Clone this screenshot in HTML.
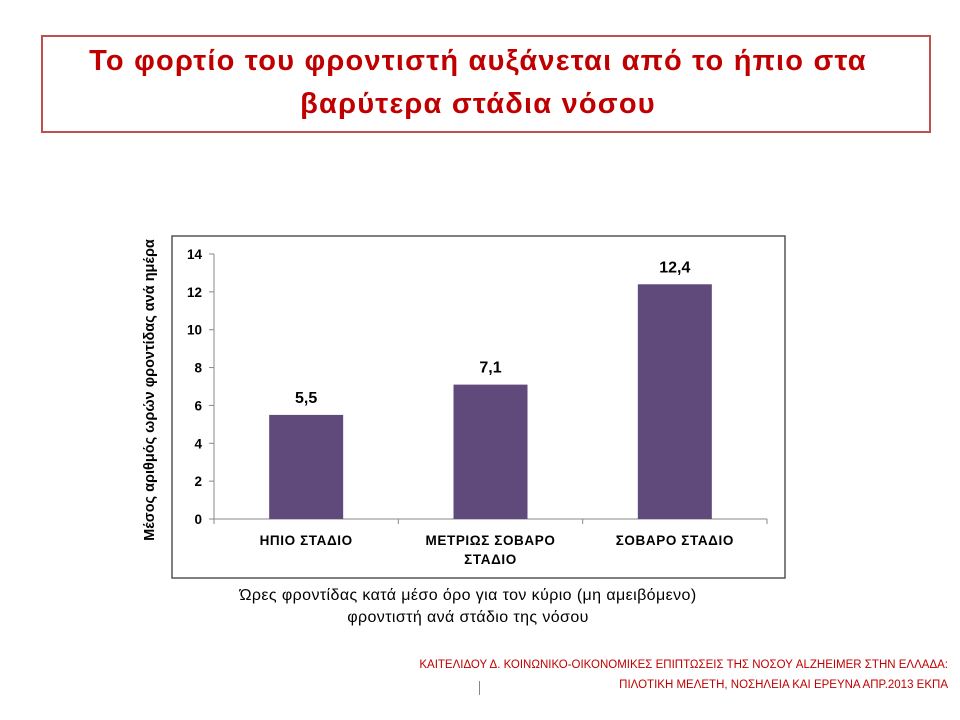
<!DOCTYPE html>
<html><head><meta charset="utf-8"><style>
body{margin:0;width:960px;height:720px;background:#fff;font-family:"Liberation Sans","DejaVu Sans",sans-serif;position:relative;overflow:hidden}
#title{position:absolute;left:41px;top:35px;width:890px;height:98px;border:2px solid #c0504d;box-sizing:border-box}
#title div{position:absolute;width:100%;text-align:center;color:#c00000;font-weight:bold;font-size:29px;letter-spacing:1.2px;white-space:nowrap}
#foot{position:absolute;right:12px;top:655px;text-align:right;color:#c00000;font-size:11.5px;line-height:20px;white-space:nowrap}
</style></head><body>
<div id="title">
<div style="top:8px;left:-8px">Το φορτίο του φροντιστή αυξάνεται από το ήπιο στα</div>
<div style="top:51px;left:-8px">βαρύτερα στάδια νόσου</div>
</div>
<svg id="chart" width="960" height="720" style="position:absolute;left:0;top:0"></svg>
<div id="foot">ΚΑΙΤΕΛΙΔΟΥ Δ. ΚΟΙΝΩΝΙΚΟ-ΟΙΚΟΝΟΜΙΚΕΣ ΕΠΙΠΤΩΣΕΙΣ ΤΗΣ ΝΟΣΟΥ ALZHEIMER ΣΤΗΝ ΕΛΛΑΔΑ:<br>ΠΙΛΟΤΙΚΗ ΜΕΛΕΤΗ, ΝΟΣΗΛΕΙΑ ΚΑΙ ΕΡΕΥΝΑ ΑΠΡ.2013 ΕΚΠΑ</div>
<div style="position:absolute;left:479px;top:681px;width:1px;height:14px;background:#888"></div>
<script>
const categories=[["ΗΠΙΟ ΣΤΑΔΙΟ"],["ΜΕΤΡΙΩΣ ΣΟΒΑΡΟ","ΣΤΑΔΙΟ"],["ΣΟΒΑΡΟ ΣΤΑΔΙΟ"]];
const values=[5.5,7.1,12.4];
const valueLabels=["5,5","7,1","12,4"];
const yTicks=[0,2,4,6,8,10,12,14];
const svg=document.getElementById('chart');const NS='http://www.w3.org/2000/svg';
function mk(t,a,txt){const e=document.createElementNS(NS,t);for(const k in a)e.setAttribute(k,a[k]);if(txt!==undefined)e.textContent=txt;svg.appendChild(e);return e;}
const x0=214,x1=767,y0=519,yTop=254,yMax=14;
const y=v=>y0-(v/yMax)*(y0-yTop);
const band=(x1-x0)/categories.length,bw=74;
let e=mk('rect',{x:172,y:236,width:613,height:342,fill:'#fff',stroke:'#555','stroke-width':1.5});

e=mk('line',{x1:x0,y1:yTop,x2:x0,y2:y0,stroke:'#888'});

e=mk('line',{x1:x0,y1:y0,x2:x1,y2:y0,stroke:'#888'});

yTicks.forEach(t=>{
 let l=mk('line',{x1:x0-5,y1:y(t),x2:x0,y2:y(t),stroke:'#888'});
 
 let s=mk('text',{x:x0-12,y:y(t)+5,'text-anchor':'end','font-size':13.5,'font-weight':'bold',fill:'#000'},t);
 
});
for(let i=0;i<=categories.length;i++){let l=mk('line',{x1:x0+i*band,y1:y0,x2:x0+i*band,y2:y0+5,stroke:'#888'});
 }
values.forEach((v,i)=>{
 const cx=x0+band*(i+0.5);
 let r=mk('rect',{x:cx-bw/2,y:y(v),width:bw,height:y0-y(v),fill:'#604a7b'});
 
 let t=mk('text',{x:cx,y:y(v)-12,'text-anchor':'middle','font-size':16,'font-weight':'bold',fill:'#000'},valueLabels[i]);
 
 categories[i].forEach((ln,j)=>{let c=mk('text',{x:cx,y:545+j*19,'text-anchor':'middle','font-size':13.5,'font-weight':'bold','letter-spacing':0.6,fill:'#000'},ln);
  });
});
e=mk('text',{x:0,y:0,transform:'translate(154,390) rotate(-90)','text-anchor':'middle','font-size':14.5,'font-weight':'bold',fill:'#000'},'Μέσος αριθμός ωρών φροντίδας ανά ημέρα');

e=mk('text',{x:468,y:600,'text-anchor':'middle','font-size':16,'letter-spacing':0.4,fill:'#000'},'Ώρες φροντίδας κατά μέσο όρο για τον κύριο (μη αμειβόμενο)');

e=mk('text',{x:468,y:622,'text-anchor':'middle','font-size':16,'letter-spacing':0.4,fill:'#000'},'φροντιστή ανά στάδιο της νόσου');

</script>
</body></html>
